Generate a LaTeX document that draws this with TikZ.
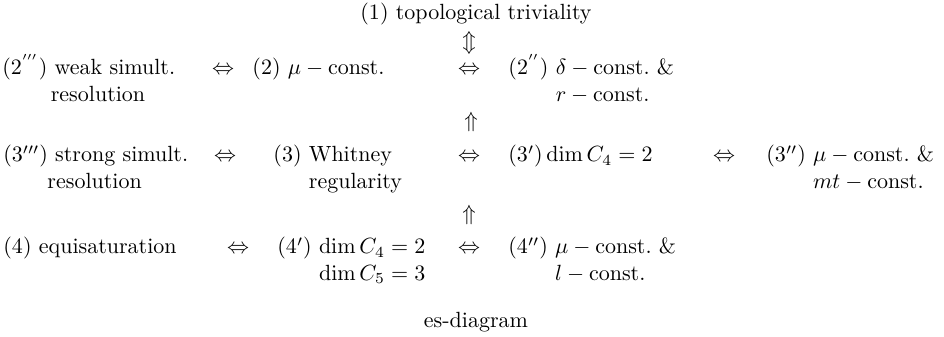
\documentclass[tikz,border=0pt]{standalone}
\usepackage{amsmath}
\usepackage{tikz}
\usetikzlibrary{positioning}

\begin{document}
\begin{tikzpicture}[
			x=0.4545pt, y=-0.4545pt,
			stmt/.style={anchor=base west, inner sep=0pt},
			equiv/.style={anchor=base, inner sep=0pt},
			impl/.style={anchor=center, inner sep=0pt},
			caption/.style={anchor=base, inner sep=0pt}
			]
			\useasboundingbox (0,0) rectangle (944,337);
			\node[caption] (top) at (476,20) {(1) topological triviality};
			\node[impl] (ud) at (469,43) {$\Updownarrow$};
			
			\node[stmt] (s2ppp) at (2,75) {\begin{tabular}[t]{@{}l@{}}(2$^{'''}$) weak simult.\\ \hspace{22pt}resolution\end{tabular}};
			\node[equiv] (e21) at (223,75) {$\Leftrightarrow$};
			\node[stmt] (s2) at (252,75) {(2) $\mu-\mathrm{const.}$};
			\node[equiv] (e22) at (469,75) {$\Leftrightarrow$};
			\node[stmt] (s2pp) at (508,75) {(2$^{''}$) \begin{tabular}[t]{@{}l@{}}$\delta-\mathrm{const.}$ \&\\ $r-\mathrm{const.}$\end{tabular}};
			
			\node[impl] (up1) at (471,122) {$\Uparrow$};
			
			\node[stmt] (s3ppp) at (3,162) {\begin{tabular}[t]{@{}l@{}}$(3''')$ strong simult.\\ \hspace{20pt}resolution\end{tabular}};
			\node[equiv] (e31) at (225,162) {$\Leftrightarrow$};
			\node[stmt] (s3) at (273,162) {(3) \begin{tabular}[t]{@{}l@{}}Whitney\\ regularity\end{tabular}};
			\node[equiv] (e32) at (469,162) {$\Leftrightarrow$};
			\node[stmt] (s3p) at (508,162) {$(3')\dim C_4=2$};
			\node[equiv] (e33) at (724,162) {$\Leftrightarrow$};
			\node[stmt] (s3pp) at (766,162) {$(3'')$ \begin{tabular}[t]{@{}l@{}}$\mu-\mathrm{const.}$ \&\\ $mt-\mathrm{const.}$\end{tabular}};
			
			\node[impl] (up2) at (469,215) {$\Uparrow$};
			
			\node[stmt] (s4) at (3,254) {(4) equisaturation};
			\node[equiv] (e41) at (238,254) {$\Leftrightarrow$};
			\node[stmt] (s4p) at (277,254) {$(4')$\ \begin{tabular}[t]{@{}l@{}}$\dim C_4=2$\\ $\dim C_5=3$\end{tabular}};
			\node[equiv] (e42) at (469,254) {$\Leftrightarrow$};
			\node[stmt] (s4pp) at (508,254) {$(4'')$ \begin{tabular}[t]{@{}l@{}}$\mu-\mathrm{const.}$ \&\\ $l-\mathrm{const.}$\end{tabular}};
			
			\node[caption] (cap) at (476,328) {es-diagram};
		\end{tikzpicture}
\end{document}
